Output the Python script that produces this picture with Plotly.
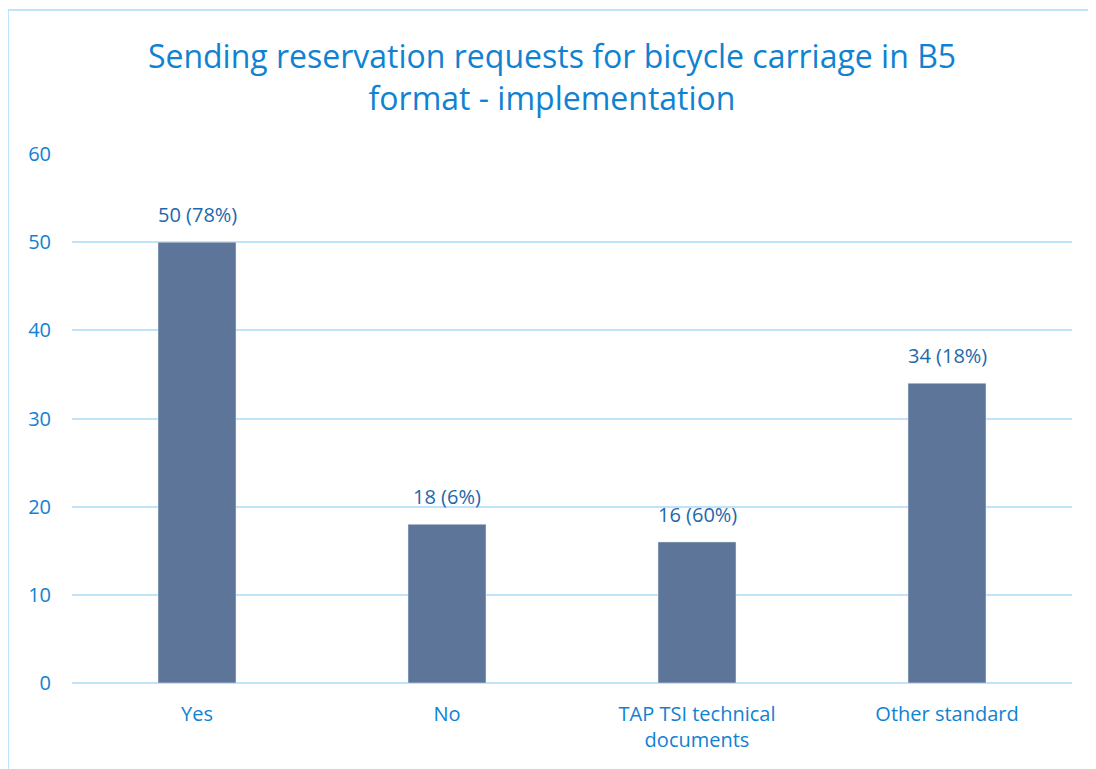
import plotly.graph_objects as go

categories = ["Yes", "No", "TAP TSI technical<br>documents", "Other standard"]
values = [50, 18, 16, 34]
percents = ["78%", "6%", "60%", "18%"]
y_ticks = [0, 10, 20, 30, 40, 50, 60]

BAR = "#5C7598"
TICK_BLUE = "#0F82D2"
LABEL_BLUE = "#1D68AC"
GRID = "#BFE4FA"
FONT = "Open Sans, sans-serif"

labels = [f"{v} ({p})" for v, p in zip(values, percents)]

fig = go.Figure()
fig.add_trace(
    go.Bar(
        x=categories,
        y=values,
        marker=dict(color=BAR),
    )
)

# value labels sit a bit higher above the bars than plotly's outside text does
for cat, val, lab in zip(categories, values, labels):
    fig.add_annotation(
        x=cat,
        y=val,
        text=lab,
        showarrow=False,
        yanchor="bottom",
        yshift=12,
        font=dict(color=LABEL_BLUE, size=20, family=FONT),
    )

# page body adds an 8px offset, margins are set so the plot area lands at 72..1072 / 154..683
fig.update_layout(
    width=1088,
    height=761,
    paper_bgcolor="white",
    plot_bgcolor="white",
    font=dict(family=FONT, color=TICK_BLUE),
    margin=dict(l=64, r=24, t=146, b=86),
    bargap=0.688,
    showlegend=False,
    title=dict(
        text="Sending reservation requests for bicycle carriage in B5<br>format - implementation",
        font=dict(size=32, color=TICK_BLUE, family=FONT),
        x=0.5,
        xanchor="center",
        y=0.921,
        yanchor="middle",
    ),
    xaxis=dict(
        showgrid=False,
        showline=False,
        tickfont=dict(size=20, color=TICK_BLUE),
        ticks="",
        ticklabelstandoff=17,
    ),
    yaxis=dict(
        range=[0, 60],
        tickvals=y_ticks,
        gridcolor=GRID,
        gridwidth=1.5,
        zeroline=True,
        zerolinecolor=GRID,
        zerolinewidth=1.5,
        tickfont=dict(size=20, color=TICK_BLUE),
        ticklabelstandoff=20,
    ),
    shapes=[
        dict(
            type="rect",
            xref="paper",
            yref="paper",
            x0=-0.064,
            x1=1.05,
            y0=-0.3,
            y1=1.272,
            line=dict(color=GRID, width=2),
            fillcolor="rgba(0,0,0,0)",
            layer="below",
        )
    ],
)

fig.write_html("out.html")
